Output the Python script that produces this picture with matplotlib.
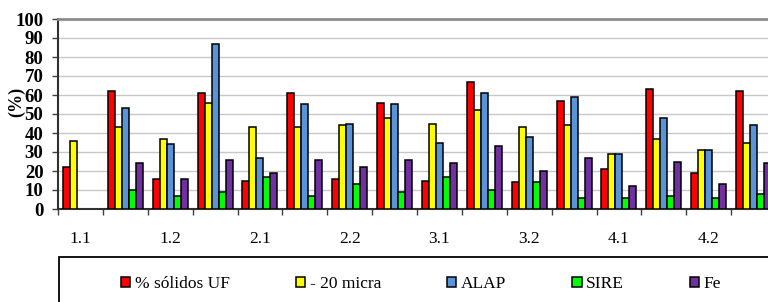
import numpy as np
import matplotlib
matplotlib.use("Agg")
from matplotlib import pyplot as plt
from matplotlib.patches import Rectangle

nan = np.nan

# 16 groups, only every other group carries a visible label
tick_labels = ["1.1", "1.2", "2.1", "2.2", "3.1", "3.2", "4.1", "4.2"]
series_names = ["% sólidos UF", "- 20 micra", "ALAP", "SIRE", "Fe"]
solidos_uf = [22, 62, 16, 61, 15, 61, 16, 56, 15, 67, 14, 57, 21, 63, 19, 62]
micra_20 = [36, 43, 37, 56, 43, 43, 44, 48, 45, 52, 43, 44, 29, 37, 31, 35]
alap = [nan, 53, 34, 87, 27, 55, 45, 55, 35, 61, 38, 59, 29, 48, 31, 44]
sire = [nan, 10, 7, 9, 17, 7, 13, 9, 17, 10, 14, 6, 6, 7, 6, 8]
fe = [nan, 24, 16, 26, 19, 26, 22, 26, 24, 33, 20, 27, 12, 25, 13, 24]
colors = ["#ff0000", "#ffff00", "#5b93d8", "#00ff00", "#7030a0"]

series = [solidos_uf, micra_20, alap, sire, fe]
n_groups = len(solidos_uf)

plt.rcParams["font.family"] = ["Liberation Serif", "DejaVu Serif"]

W, H = 768, 302
fig = plt.figure(figsize=(W / 100, H / 100), dpi=100)
# axes runs a little past the right edge, like the cropped original
left, right, bottom, top = 58, 776, 209, 19
ax = fig.add_axes([left / W, 1 - bottom / H, (right - left) / W, (bottom - top) / H])

x = np.arange(n_groups)
bw = 0.156
for k, (vals, name, c) in enumerate(zip(series, series_names, colors)):
    ax.bar(x - 0.389 + bw * (k + 0.5), vals, width=bw, color=c, edgecolor="black",
           linewidth=1.1, label=name, zorder=3)

ax.set_xlim(-0.5, n_groups - 0.5)
ax.set_ylim(0, 100)
ax.set_yticks(range(0, 101, 10))
ax.yaxis.grid(True, color="#c8c8c8", linewidth=1.0, zorder=0)
ax.set_axisbelow(True)

ax.set_xticks(x[::2][:len(tick_labels)])
ax.set_xticklabels(tick_labels, fontsize=12.5)
ax.tick_params(axis="x", length=0, pad=16)
ax.set_xticks(np.arange(-0.5, n_groups, 1.0), minor=True)
ax.tick_params(axis="x", which="minor", length=4.5, width=1.0, color="#404040")
ax.tick_params(axis="y", length=4.5, width=1.0, color="#404040", labelsize=13.5, pad=6)
for lab in ax.get_yticklabels():
    lab.set_fontweight("bold")

ax.spines["top"].set_color("#8c8c8c")
ax.spines["top"].set_linewidth(2.0)
ax.spines["left"].set_color("#303030")
ax.spines["left"].set_linewidth(1.5)
ax.spines["bottom"].set_color("#303030")
ax.spines["bottom"].set_linewidth(1.5)
ax.spines["right"].set_visible(False)

fig.text(17 / W, 1 - 102 / H, "(%)", rotation=90, fontsize=13, fontweight="bold",
         ha="center", va="center")

# legend box running off the bottom-right corner
fig.patches.append(Rectangle((59 / W, -0.1), 1.0, 1 - 257 / H + 0.1,
                             transform=fig.transFigure, fill=False,
                             edgecolor="black", linewidth=1.3))
handles, labels = ax.get_legend_handles_labels()
fig.legend(handles, labels, ncol=5, frameon=False, fontsize=12.5,
           loc="center", bbox_to_anchor=(421 / W, 1 - 284 / H),
           handlelength=0.55, handleheight=0.55, handletextpad=0.25,
           columnspacing=3.8)

fig.savefig("out.png", dpi=100)
